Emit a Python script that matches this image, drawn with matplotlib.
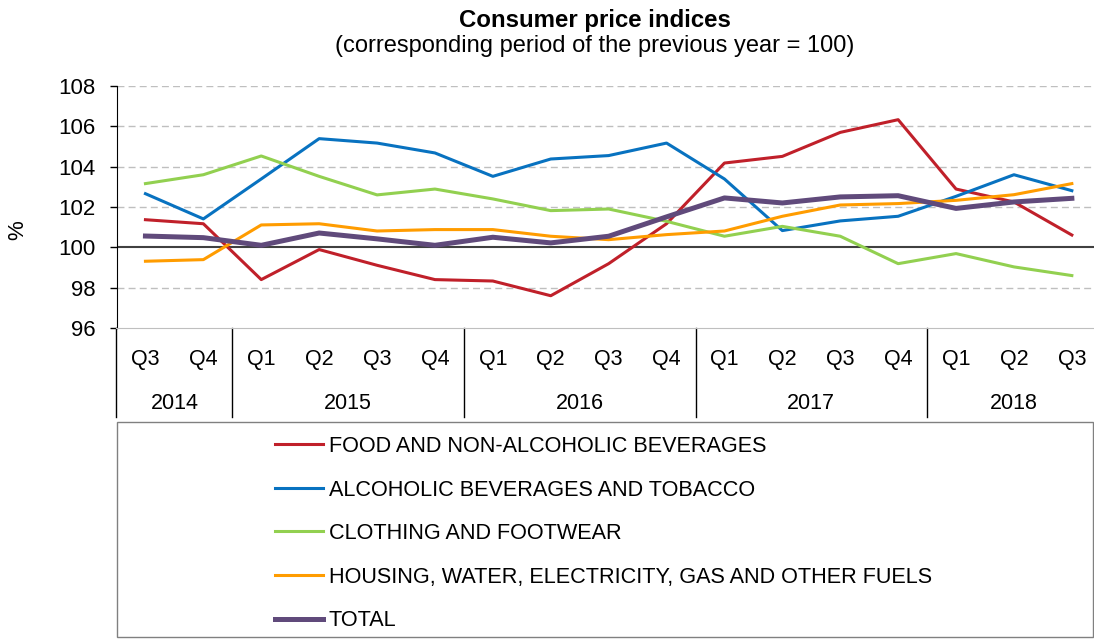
import numpy as np
import matplotlib
matplotlib.use("Agg")
import matplotlib.pyplot as plt
from matplotlib.lines import Line2D
from matplotlib.patches import Rectangle

plt.rcParams['font.family'] = ['Liberation Sans', 'DejaVu Sans']

quarters = ['Q3', 'Q4', 'Q1', 'Q2', 'Q3', 'Q4', 'Q1', 'Q2', 'Q3',
            'Q4', 'Q1', 'Q2', 'Q3', 'Q4', 'Q1', 'Q2', 'Q3']
years = ['2014', '2015', '2016', '2017', '2018']
year_counts = [2, 4, 4, 4, 3]

names = ['FOOD AND NON-ALCOHOLIC BEVERAGES',
         'ALCOHOLIC BEVERAGES AND TOBACCO',
         'CLOTHING AND FOOTWEAR',
         'HOUSING, WATER, ELECTRICITY, GAS AND OTHER FUELS',
         'TOTAL']

food = [101.37, 101.17, 98.40, 99.89, 99.11, 98.40, 98.33, 97.60, 99.19,
        101.17, 104.18, 104.51, 105.70, 106.33, 102.89, 102.25, 100.61]
alcohol = [102.66, 101.41, 103.39, 105.39, 105.17, 104.68, 103.52, 104.38, 104.55,
           105.17, 103.39, 100.83, 101.31, 101.54, 102.53, 103.60, 102.81]
clothing = [103.16, 103.60, 104.53, 103.52, 102.60, 102.89, 102.40, 101.82, 101.90,
            101.29, 100.55, 101.04, 100.55, 99.19, 99.69, 99.03, 98.60]
housing = [99.31, 99.39, 101.11, 101.17, 100.81, 100.88, 100.88, 100.55, 100.38,
           100.63, 100.81, 101.54, 102.10, 102.17, 102.33, 102.61, 103.16]
total = [100.56, 100.48, 100.10, 100.71, 100.42, 100.10, 100.50, 100.22, 100.55,
         101.51, 102.45, 102.20, 102.50, 102.56, 101.93, 102.25, 102.43]

series = [food, alcohol, clothing, housing, total]
colors = ['#C0202A', '#0872C0', '#92D050', '#FF9C00', '#604A7B']
widths = [2.2, 2.2, 2.2, 2.2, 3.6]

W, H = 1094, 639
fig = plt.figure(figsize=(W / 100, H / 100), dpi=100)
ax = fig.add_axes([116.5 / W, 1 - 328 / H, 984.3 / W, 242 / H])

x = np.arange(len(quarters))
lines = []
for s, c, lw, n in zip(series, colors, widths, names):
    l, = ax.plot(x, s, color=c, lw=lw, label=n, solid_joinstyle='round')
    lines.append(l)

ax.set_xlim(-0.5, len(quarters) - 0.5)
ax.set_ylim(96, 108)
ax.set_yticks(np.arange(96, 109, 2))
ax.tick_params(axis='y', labelsize=16, length=5, width=1, pad=10, direction='out')
ax.set_xticks([])
for yv in [98, 102, 104, 106, 108]:
    ax.axhline(yv, color='#BFBFBF', lw=1, ls=(0, (5, 3)), zorder=0)
ax.axhline(100, color='#404040', lw=1.5, zorder=1)

for sp in ['top', 'right']:
    ax.spines[sp].set_visible(False)
ax.spines['bottom'].set_color('#BFBFBF')
ax.spines['left'].set_color('black')

# category axis: quarters, years and separators
tr = ax.get_xaxis_transform()
for i, q in enumerate(quarters):
    ax.text(i, -0.132, q, transform=tr, ha='center', va='center', fontsize=15.5)
start = 0
for yr, cnt in zip(years, year_counts):
    ax.text(start + (cnt - 1) / 2, -0.31, yr, transform=tr, ha='center',
            va='center', fontsize=15.5)
    ax.add_line(Line2D([start - 0.5, start - 0.5], [0, -0.368], transform=tr,
                       color='black', lw=1, clip_on=False))
    start += cnt

fig.text(18 / W, 1 - 230 / H, '%', rotation=90, ha='center', va='center', fontsize=16)
fig.text(595 / W, 1 - 20 / H, 'Consumer price indices', ha='center', va='center',
         fontsize=17.3, fontweight='bold')
fig.text(595 / W, 1 - 46 / H, '(corresponding period of the previous year = 100)',
         ha='center', va='center', fontsize=17)

# legend box
fig.add_artist(Rectangle((117 / W, 1 - 637 / H), (1093 - 117) / W, (637 - 422) / H,
                         transform=fig.transFigure, fill=False, ec='#808080', lw=1))
fig.legend(handles=lines, loc='upper left', bbox_to_anchor=(275 / W, 1 - 436 / H),
           frameon=False, fontsize=15.6, handlelength=2.2, handletextpad=0.28,
           labelspacing=1.04, borderpad=0, borderaxespad=0)

fig.savefig('out.png', dpi=100)
